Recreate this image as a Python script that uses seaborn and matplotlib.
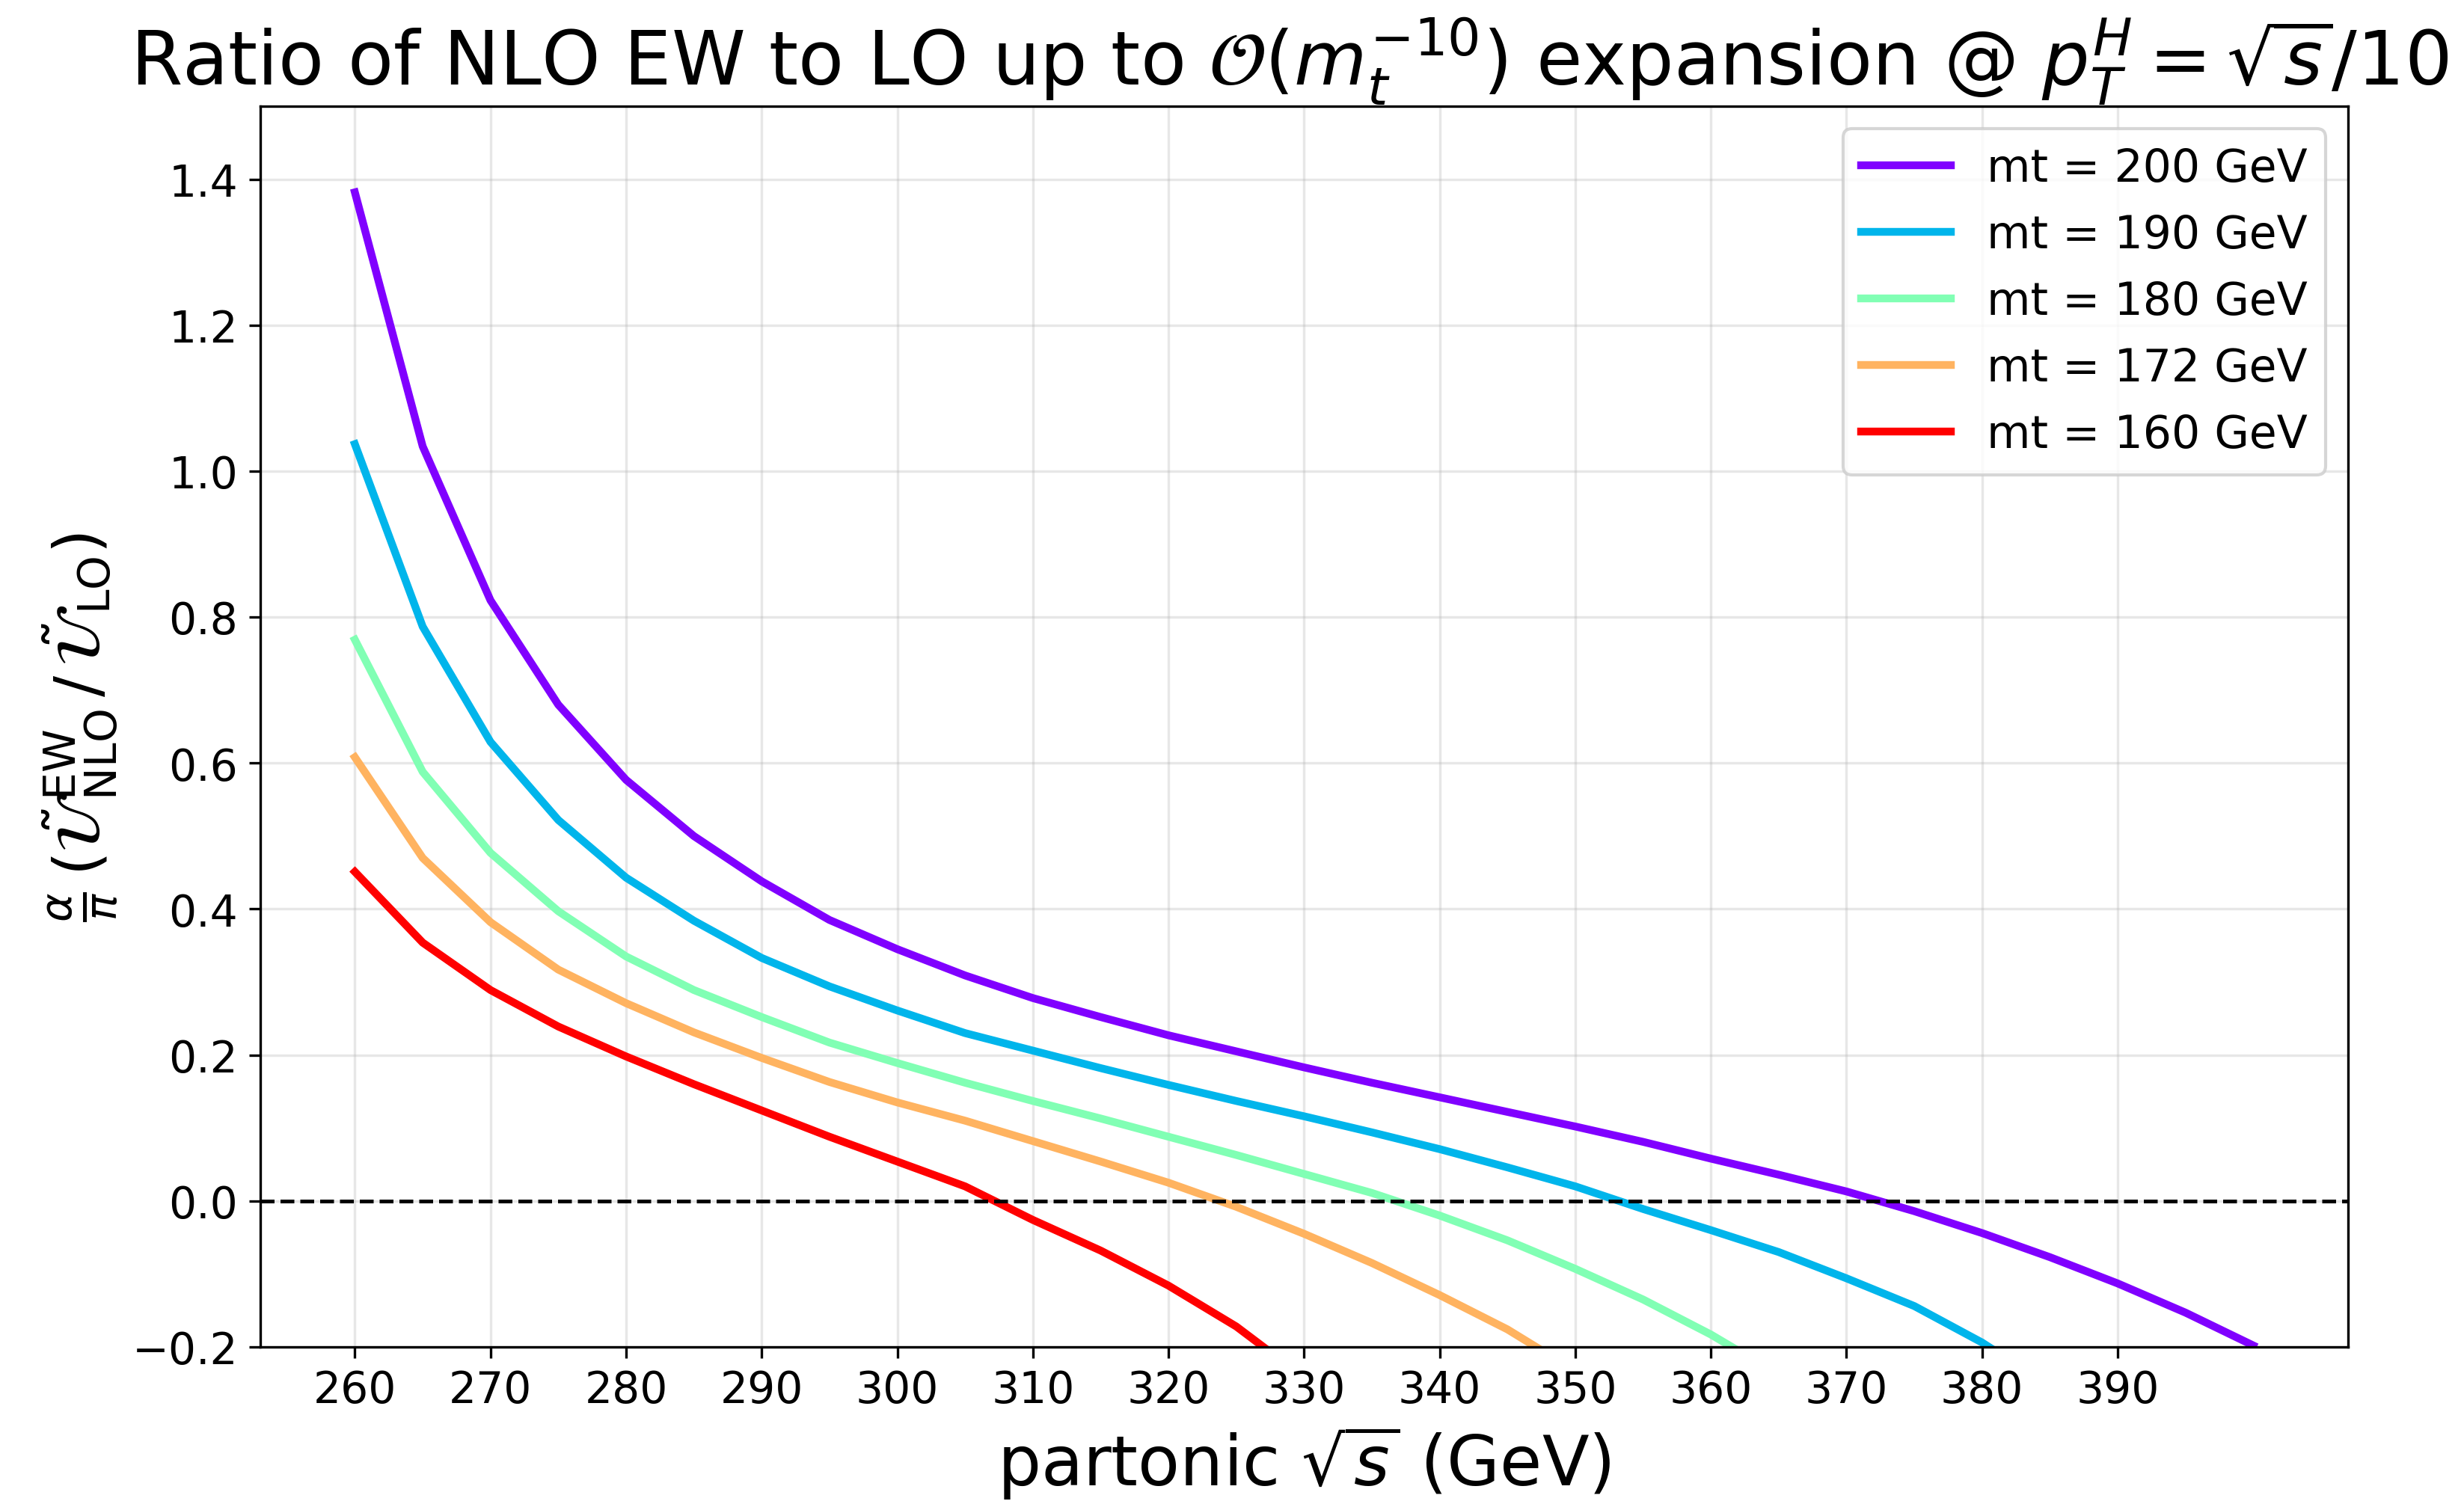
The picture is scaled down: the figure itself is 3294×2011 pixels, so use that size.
import numpy as np
import pandas as pd
import matplotlib
matplotlib.use('Agg')
import matplotlib.pyplot as plt
import seaborn as sns

sqrt_s = [260, 265, 270, 275, 280, 285, 290, 295, 300, 305, 310, 315, 320, 325, 330,
          335, 340, 345, 350, 355, 360, 365, 370, 375, 380, 385, 390, 395, 400]

mt_values = [200, 190, 180, 172, 160]

# values (points below -0.2 are clipped by the axis)
ratio_200 = [1.382, 1.034, 0.823, 0.680, 0.577, 0.500, 0.438, 0.385, 0.345, 0.309, 0.278,
             0.252, 0.227, 0.205, 0.183, 0.162, 0.142, 0.122, 0.102, 0.081, 0.058, 0.036,
             0.013, -0.014, -0.044, -0.077, -0.113, -0.153, -0.198]
ratio_190 = [1.037, 0.787, 0.629, 0.522, 0.443, 0.384, 0.333, 0.294, 0.261, 0.230, 0.206,
             0.182, 0.159, 0.137, 0.116, 0.094, 0.071, 0.046, 0.020, -0.011, -0.040, -0.070,
             -0.106, -0.144, -0.194, -0.254, -0.32, -0.39, -0.47]
ratio_180 = [0.769, 0.588, 0.477, 0.397, 0.335, 0.289, 0.252, 0.217, 0.189, 0.162, 0.137,
             0.113, 0.088, 0.063, 0.037, 0.011, -0.020, -0.054, -0.093, -0.135, -0.183, -0.238,
             -0.30, -0.37, -0.45, -0.53, -0.62, -0.72, -0.83]
ratio_172 = [0.608, 0.470, 0.382, 0.317, 0.271, 0.231, 0.196, 0.163, 0.135, 0.110, 0.082,
             0.054, 0.025, -0.008, -0.045, -0.085, -0.129, -0.176, -0.233, -0.30, -0.37, -0.45,
             -0.54, -0.64, -0.75, -0.87, -1.0, -1.14, -1.3]
ratio_160 = [0.451, 0.354, 0.289, 0.239, 0.198, 0.160, 0.124, 0.088, 0.054, 0.020, -0.026,
             -0.068, -0.116, -0.172, -0.242, -0.32, -0.41, -0.51, -0.62, -0.74, -0.87, -1.01,
             -1.16, -1.32, -1.5, -1.7, -1.9, -2.1, -2.3]

series = [ratio_200, ratio_190, ratio_180, ratio_172, ratio_160]
labels = ['mt = %d GeV' % m for m in mt_values]

rows = []
for lab, vals in zip(labels, series):
    for x, y in zip(sqrt_s, vals):
        rows.append({'sqrt_s': x, 'ratio': y, 'mass': lab})
df = pd.DataFrame(rows)

colors = plt.cm.rainbow(np.linspace(0, 1, len(mt_values)))
palette = dict(zip(labels, colors))

fig, ax = plt.subplots(figsize=(10.98, 6.706), dpi=300)
fig.subplots_adjust(left=0.1055, right=0.953, top=0.929, bottom=0.1044)

sns.lineplot(data=df, x='sqrt_s', y='ratio', hue='mass', hue_order=labels,
             palette=palette, estimator=None, linewidth=2.5, ax=ax)
ax.axhline(0, color='black', linestyle='--', linewidth=1.2)

ax.set_xlim(253, 407)
ax.set_ylim(-0.2, 1.5)
ax.set_xticks(np.arange(260, 400, 10))
ax.tick_params(labelsize=14)
ax.grid(alpha=0.3)

ax.set_title(r'Ratio of NLO EW to LO up to $\mathcal{O}(m_t^{-10})$ expansion @ $p_T^H = \sqrt{s}/10$',
             fontsize=24, x=0.493)
ax.set_xlabel(r'partonic $\sqrt{s}$ (GeV)', fontsize=22)
ax.set_ylabel(r'$\frac{\alpha}{\pi}\,(\tilde{\mathcal{U}}^{\rm EW}_{\rm NLO}\,/\,\tilde{\mathcal{U}}_{\rm LO})$',
              fontsize=20)
ax.legend(loc='upper right', fontsize=14.4, title=None)

plt.savefig('out.png', dpi=300)
